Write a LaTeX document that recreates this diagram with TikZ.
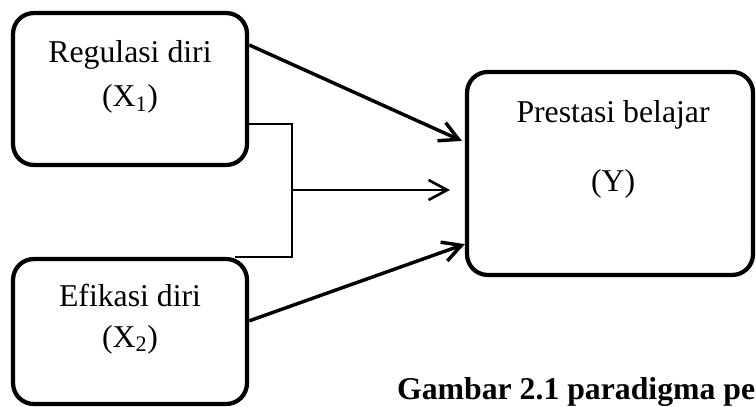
\documentclass[tikz,border=0pt]{standalone}
\usepackage{fontspec}
\setmainfont{Liberation Serif}
\usetikzlibrary{arrows.meta}

\begin{document}
\begin{tikzpicture}[>={Straight Barb[length=14pt,width=15pt]},
        font=\fontsize{23.9}{28}\selectfont,
        var box/.style={draw,rounded corners=0.55cm,line width=3.2pt,minimum width=6.19cm},
        var text/.style={anchor=base,inner sep=0pt},
        link/.style={line width=2.6pt},
        join line/.style={line width=2pt}]

        \useasboundingbox (0,0) rectangle (20.002,-10.768);

        % boxes
        \node[var box,minimum height=4.02cm] (x1) at (3.44,-2.355) {};
        \node[var box,minimum height=3.836cm] (x2) at (3.44,-8.771) {};
        \node[var box,minimum width=7.567cm,minimum height=5.371cm] (y) at (16.14,-4.59) {};

        % texts
        \node[var text] (x1 name) at (3.44,-1.667) {Regulasi diri};
        \node[var text] (x1 sym) at (3.44,-2.831) {(X\textsubscript{1})};
        \node[var text] (x2 name) at (3.44,-8.122) {Efikasi diri};
        \node[var text] (x2 sym) at (3.44,-9.181) {(X\textsubscript{2})};
        \node[var text] (y name) at (16.22,-3.254) {Prestasi belajar};
        \node[var text] (y sym) at (16.22,-5.080) {(Y)};
        \node[anchor=base west,inner sep=0pt,font=\fontsize{23.9}{28}\selectfont\bfseries]
          (caption) at (10.50,-10.56) {Gambar 2.1 paradigma pe};

        \coordinate (join) at (7.726,-5.027);
        \coordinate (tip) at (11.906,-5.027);

        % connectors
        \draw[link,->] ([yshift=-0.9cm]x1.north east) -- ([shift={(-0.08,-1.879)}]y.north west);
        \draw[link,->] ([yshift=-1.693cm]x2.north east) -- ([yshift=0.873cm]y.south west);
        \draw[join line] ([yshift=-2.99cm]x1.north east) -| (join) |- ([xshift=-0.37cm]x2.north east);
        \draw[join line,->] (join) -- (tip);
      \end{tikzpicture}
\end{document}
